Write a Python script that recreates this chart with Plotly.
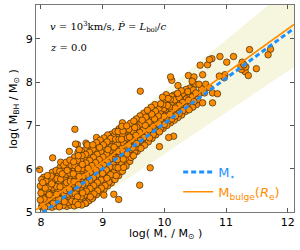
import plotly.graph_objects as go
from math import gcd

# ---------------- data ----------------
# dense cloud (log M_star, log M_BH)
mstar = [
 8.01, 8.02, 7.99, 8.03, 8.0, 8.02, 7.99, 8.03, 8.01,
 8.06, 8.08, 8.05, 8.075, 8.04, 8.07, 8.055, 8.08, 8.045,
 8.12, 8.14, 8.11, 8.135, 8.1, 8.13, 8.115, 8.14, 8.105,
 8.18, 8.2, 8.17, 8.195, 8.16, 8.19, 8.175, 8.2, 8.165, 8.185,
 8.24, 8.26, 8.23, 8.255, 8.22, 8.25, 8.235, 8.26, 8.225, 8.245,
 8.3, 8.32, 8.29, 8.315, 8.28, 8.31, 8.295, 8.32, 8.285, 8.305, 8.31,
 8.36, 8.38, 8.35, 8.375, 8.34, 8.37, 8.355, 8.38, 8.345, 8.365, 8.37,
 8.42, 8.44, 8.41, 8.435, 8.4, 8.43, 8.415, 8.44, 8.405, 8.425, 8.43, 8.41,
 8.48, 8.5, 8.47, 8.495, 8.46, 8.49, 8.475, 8.5, 8.465, 8.485, 8.49, 8.47,
 8.54, 8.56, 8.53, 8.555, 8.52, 8.55, 8.535, 8.56, 8.525, 8.545, 8.55, 8.53, 8.545,
 8.6, 8.62, 8.59, 8.615, 8.58, 8.61, 8.595, 8.62, 8.585, 8.605, 8.61, 8.59, 8.605, 8.6,
 8.66, 8.68, 8.65, 8.675, 8.64, 8.67, 8.655, 8.68, 8.645, 8.665, 8.67, 8.65, 8.665, 8.66,
 8.72, 8.74, 8.71, 8.735, 8.7, 8.73, 8.715, 8.74, 8.705, 8.725, 8.73, 8.71, 8.725, 8.72,
 8.78, 8.8, 8.77, 8.795, 8.76, 8.79, 8.775, 8.8, 8.765, 8.785, 8.79, 8.77, 8.785, 8.78,
 8.84, 8.86, 8.83, 8.855, 8.82, 8.85, 8.835, 8.86, 8.825, 8.845, 8.85, 8.83, 8.845, 8.84,
 8.9, 8.92, 8.89, 8.915, 8.88, 8.91, 8.895, 8.92, 8.885, 8.905, 8.91, 8.89, 8.905, 8.9,
 8.96, 8.98, 8.95, 8.975, 8.94, 8.97, 8.955, 8.98, 8.945, 8.965, 8.97, 8.95, 8.965, 8.96,
 9.02, 9.04, 9.01, 9.035, 9.0, 9.03, 9.015, 9.04, 9.005, 9.025, 9.03, 9.01, 9.025, 9.02,
 9.08, 9.1, 9.07, 9.095, 9.06, 9.09, 9.075, 9.1, 9.065, 9.085, 9.09, 9.07, 9.085, 9.08,
 9.14, 9.16, 9.13, 9.155, 9.12, 9.15, 9.135, 9.16, 9.125, 9.145, 9.15, 9.13, 9.145,
 9.2, 9.22, 9.19, 9.215, 9.18, 9.21, 9.195, 9.22, 9.185, 9.205, 9.21, 9.19, 9.205,
 9.26, 9.28, 9.25, 9.275, 9.24, 9.27, 9.255, 9.28, 9.245, 9.265, 9.27, 9.25, 9.265,
 9.32, 9.34, 9.31, 9.335, 9.3, 9.33, 9.315, 9.34, 9.305, 9.325, 9.33, 9.31,
 9.38, 9.4, 9.37, 9.395, 9.36, 9.39, 9.375, 9.4, 9.365, 9.385, 9.39,
 9.44, 9.46, 9.43, 9.455, 9.42, 9.45, 9.435, 9.46, 9.425, 9.445, 9.45,
 9.5, 9.52, 9.49, 9.515, 9.48, 9.51, 9.495, 9.52, 9.485, 9.505,
 9.56, 9.58, 9.55, 9.575, 9.54, 9.57, 9.555, 9.58, 9.545,
 9.62, 9.64, 9.61, 9.635, 9.6, 9.63, 9.615, 9.64, 9.605,
 9.68, 9.7, 9.67, 9.695, 9.66, 9.69, 9.675, 9.7, 9.665,
 9.74, 9.76, 9.73, 9.755, 9.72, 9.75, 9.735, 9.76, 9.725,
 9.8, 9.82, 9.79, 9.815, 9.78, 9.81, 9.795, 9.82, 9.785,
 9.86, 9.88, 9.85, 9.875, 9.84, 9.87, 9.855, 9.88, 9.845,
 9.92, 9.94, 9.91, 9.935, 9.9, 9.93, 9.915, 9.94,
 9.98, 10.0, 9.97, 9.995, 9.96, 9.99, 9.975, 10.0,
 10.04, 10.06, 10.03, 10.055, 10.02, 10.05, 10.035, 10.06,
 10.1, 10.12, 10.09, 10.115, 10.08, 10.11, 10.095, 10.12,
 10.16, 10.18, 10.15, 10.175, 10.14, 10.17, 10.155,
 10.22, 10.24, 10.21, 10.235, 10.2, 10.23, 10.215,
 10.28, 10.3, 10.27, 10.295, 10.26, 10.29, 10.275,
 10.34, 10.36, 10.33, 10.355, 10.32, 10.35,
 10.4, 10.42, 10.39, 10.415, 10.38, 10.41,
 10.46, 10.48, 10.45, 10.47,
 10.52, 10.54, 10.51,
]
mbh = [
 5.12, 5.2, 5.28, 5.36, 5.44, 5.52, 5.6, 5.68, 5.75,
 5.1, 5.19, 5.3, 5.38, 5.47, 5.55, 5.64, 5.72, 5.8,
 5.13, 5.22, 5.31, 5.4, 5.49, 5.58, 5.66, 5.75, 5.84,
 5.11, 5.2, 5.29, 5.38, 5.47, 5.56, 5.65, 5.74, 5.83, 5.92,
 5.14, 5.23, 5.32, 5.41, 5.5, 5.59, 5.68, 5.77, 5.86, 5.96,
 5.12, 5.21, 5.3, 5.4, 5.49, 5.58, 5.67, 5.76, 5.85, 5.94, 6.03,
 5.15, 5.24, 5.33, 5.42, 5.51, 5.6, 5.7, 5.79, 5.88, 5.97, 6.08,
 5.13, 5.22, 5.31, 5.41, 5.5, 5.59, 5.68, 5.78, 5.87, 5.96, 6.05, 6.15,
 5.16, 5.25, 5.34, 5.44, 5.53, 5.62, 5.71, 5.8, 5.9, 5.99, 6.08, 6.2,
 5.14, 5.23, 5.33, 5.42, 5.51, 5.6, 5.7, 5.79, 5.88, 5.98, 6.07, 6.16, 6.27,
 5.17, 5.26, 5.35, 5.45, 5.54, 5.63, 5.73, 5.82, 5.91, 6.0, 6.1, 6.19, 6.3, 6.38,
 5.16, 5.25, 5.35, 5.44, 5.53, 5.63, 5.72, 5.82, 5.91, 6.0, 6.1, 6.2, 6.3, 6.4,
 5.2, 5.29, 5.39, 5.48, 5.57, 5.67, 5.76, 5.85, 5.95, 6.04, 6.13, 6.23, 6.33, 6.44,
 5.26, 5.35, 5.45, 5.54, 5.63, 5.73, 5.82, 5.91, 6.01, 6.1, 6.19, 6.29, 6.38, 6.48,
 5.33, 5.42, 5.51, 5.61, 5.7, 5.79, 5.89, 5.98, 6.07, 6.17, 6.26, 6.35, 6.45, 6.55,
 5.4, 5.49, 5.58, 5.68, 5.77, 5.86, 5.96, 6.05, 6.14, 6.24, 6.33, 6.42, 6.52, 6.6,
 5.46, 5.55, 5.65, 5.74, 5.83, 5.93, 6.02, 6.11, 6.21, 6.3, 6.39, 6.49, 6.58, 6.66,
 5.52, 5.61, 5.71, 5.8, 5.89, 5.99, 6.08, 6.17, 6.27, 6.36, 6.45, 6.55, 6.64, 6.71,
 5.6, 5.69, 5.78, 5.88, 5.97, 6.06, 6.16, 6.25, 6.34, 6.44, 6.53, 6.62, 6.72, 6.78,
 5.67, 5.76, 5.86, 5.95, 6.04, 6.14, 6.23, 6.32, 6.42, 6.51, 6.6, 6.7, 6.8,
 5.75, 5.84, 5.94, 6.03, 6.12, 6.22, 6.31, 6.4, 6.5, 6.59, 6.68, 6.77, 6.86,
 5.84, 5.93, 6.02, 6.12, 6.21, 6.3, 6.4, 6.49, 6.58, 6.68, 6.77, 6.86, 6.92,
 5.94, 6.03, 6.12, 6.22, 6.31, 6.4, 6.5, 6.59, 6.68, 6.78, 6.87, 6.95,
 6.06, 6.15, 6.24, 6.34, 6.43, 6.52, 6.62, 6.71, 6.8, 6.9, 6.99,
 6.17, 6.26, 6.35, 6.45, 6.54, 6.63, 6.73, 6.82, 6.91, 7.0, 7.05,
 6.3, 6.39, 6.48, 6.58, 6.67, 6.76, 6.86, 6.95, 7.04, 7.1,
 6.4, 6.49, 6.58, 6.68, 6.77, 6.86, 6.96, 7.05, 7.15,
 6.47, 6.56, 6.65, 6.75, 6.84, 6.93, 7.03, 7.12, 7.22,
 6.54, 6.63, 6.72, 6.82, 6.91, 7.0, 7.1, 7.19, 7.28,
 6.62, 6.71, 6.8, 6.9, 6.99, 7.08, 7.18, 7.27, 7.35,
 6.7, 6.79, 6.88, 6.98, 7.07, 7.16, 7.26, 7.34, 7.42,
 6.78, 6.87, 6.96, 7.06, 7.15, 7.24, 7.33, 7.42, 7.48,
 6.85, 6.94, 7.03, 7.13, 7.22, 7.31, 7.4, 7.5,
 6.93, 7.02, 7.11, 7.21, 7.3, 7.39, 7.48, 7.56,
 7.0, 7.09, 7.18, 7.28, 7.37, 7.46, 7.55, 7.62,
 7.06, 7.15, 7.25, 7.34, 7.43, 7.52, 7.6, 7.67,
 7.12, 7.22, 7.31, 7.4, 7.5, 7.59, 7.7,
 7.18, 7.28, 7.37, 7.46, 7.56, 7.65, 7.74,
 7.24, 7.34, 7.44, 7.53, 7.62, 7.72, 7.8,
 7.32, 7.42, 7.52, 7.61, 7.7, 7.83,
 7.36, 7.48, 7.58, 7.68, 7.78, 7.86,
 7.42, 7.55, 7.66, 7.82,
 7.48, 7.6, 7.75,
]

# sparse / outlying galaxies
mstar_out = [7.98, 8.19, 8.55, 9.61, 8.59, 8.62, 8.75, 8.9, 9.31, 9.32, 9.6, 9.77,
             9.92, 10.07, 10.15, 10.1, 10.12, 10.22, 10.23, 10.39, 10.45, 10.58,
             10.7, 10.77, 10.9, 11.01, 11.12, 11.38, 11.72, 11.68, 10.98, 11.26,
             11.29, 11.24, 11.32, 11.25, 11.49, 11.31, 11.36, 10.73, 10.62, 10.89,
             10.97, 10.48, 10.46, 10.51, 10.56, 10.67, 10.73, 10.78, 10.86, 10.65,
             10.78, 10.62, 10.03, 10.24, 10.3, 9.26, 9.18, 9.02, 8.83, 8.73, 8.56,
             8.46, 8.32, 8.73, 8.88, 9.97, 10.55, 10.6]
mbh_out = [5.98, 6.25, 6.91, 7.79, 6.56, 6.44, 6.55, 6.72, 6.98, 7.06, 5.62, 6.02,
           6.51, 6.72, 6.75, 8.12, 8.04, 7.92, 7.7, 8.15, 8.02, 8.39,
           8.4, 8.54, 8.59, 8.46, 8.59, 8.75, 8.76, 8.63, 8.17, 8.46,
           8.4, 8.36, 8.35, 8.29, 8.31, 8.24, 8.15, 8.52, 8.17, 8.14,
           8.1, 8.12, 7.98, 7.95, 7.95, 7.95, 7.87, 7.75, 7.73, 7.75,
           7.52, 7.52, 7.71, 7.64, 7.56, 5.29, 5.41, 5.39, 5.31, 5.2, 6.57,
           6.4, 6.15, 6.59, 6.57, 7.65, 7.7, 7.85]

# relations (values at the ends of the x range)
fit_x = [7.92, 12.1]
fit_mstar = [4.87, 9.24]
fit_bulge = [5.05, 9.33]
band_upper = [5.37, 10.26]
band_lower = [4.35, 8.35]

x_ticks = [8, 9, 10, 11, 12]
y_ticks = [5, 6, 7, 8, 9]

ORANGE = "#FF8C00"
BLUE = "#1E90FF"

# draw order interleaved so the dense cloud overlaps irregularly
all_x = mstar + mstar_out
all_y = mbh + mbh_out
n = len(all_x)
stride = next(s for s in (97, 89, 83, 79, 73) if gcd(s, n) == 1)
order = [(i * stride) % n for i in range(n)]
px = [all_x[i] for i in order]
py = [all_y[i] for i in order]

fig = go.Figure()

# shaded band
fig.add_trace(go.Scatter(x=fit_x, y=band_lower, mode="lines",
                         line=dict(width=0), hoverinfo="skip", showlegend=False))
fig.add_trace(go.Scatter(x=fit_x, y=band_upper, mode="lines", fill="tonexty",
                         fillcolor="rgba(232,232,170,0.38)",
                         line=dict(width=0), hoverinfo="skip", showlegend=False))

fig.add_trace(go.Scatter(x=px, y=py, mode="markers",
                         marker=dict(size=6.5, color=ORANGE,
                                     line=dict(width=0.7, color="#3a2a10")),
                         showlegend=False))

fig.add_trace(go.Scatter(x=fit_x, y=fit_mstar, mode="lines",
                         line=dict(color=BLUE, width=3, dash="5px,3px"),
                         name="<span style='color:%s'>M<sub>⋆</sub></span>" % BLUE))
fig.add_trace(go.Scatter(x=fit_x, y=fit_bulge, mode="lines",
                         line=dict(color=ORANGE, width=1.6),
                         name="<span style='color:%s'>M<sub>bulge</sub>(<i>R</i><sub>e</sub>)</span>" % ORANGE))

axis_common = dict(showline=True, linecolor="#777", linewidth=1, mirror="ticks",
                   ticks="inside", ticklen=4, tickcolor="#555", showgrid=False,
                   zeroline=False, automargin=False,
                   tickfont=dict(family="DejaVu Sans", size=11, color="black"))

fig.update_xaxes(range=[7.92, 12.1], tickvals=x_ticks, ticktext=[str(v) for v in x_ticks],
                 **axis_common)
fig.update_yaxes(range=[5.0, 9.78], tickvals=y_ticks, ticktext=[str(v) for v in y_ticks],
                 **axis_common)

# axis titles as annotations
fig.add_annotation(xref="paper", yref="paper", x=-0.088, y=0.50, textangle=-90,
                   xanchor="center", yanchor="middle", showarrow=False,
                   text="log( M<sub>BH</sub> / M<sub>⊙</sub> )",
                   font=dict(family="DejaVu Sans", size=11, color="black"))
fig.add_annotation(xref="paper", yref="paper", x=0.5, y=-0.108,
                   xanchor="center", yanchor="middle", showarrow=False,
                   text="log( M<sub>⋆</sub> / M<sub>⊙</sub> )",
                   font=dict(family="DejaVu Sans", size=11, color="black"))

fig.add_annotation(xref="paper", yref="paper", x=0.045, y=0.895, xanchor="left", yanchor="middle",
                   text="<i>v</i> = 10<sup>3</sup>km/s, <i>Ṗ</i> = <i>L</i><sub>bol</sub>/<i>c</i>",
                   showarrow=False, font=dict(family="DejaVu Serif", size=10, color="black"))
fig.add_annotation(xref="paper", yref="paper", x=0.045, y=0.797, xanchor="left", yanchor="middle",
                   text="<i>z</i> = 0.0",
                   showarrow=False, font=dict(family="DejaVu Serif", size=10, color="black"))

fig.update_layout(
    width=300, height=250,
    margin=dict(l=36, r=6, t=5, b=38),
    paper_bgcolor="white", plot_bgcolor="white",
    legend=dict(x=0.551, y=0.266, xanchor="left", yanchor="top", traceorder="normal",
                bgcolor="rgba(0,0,0,0)", font=dict(family="DejaVu Sans", size=13),
                tracegroupgap=0, itemwidth=30),
)

fig.write_html("out.html", config={"displayModeBar": False},
               post_script="document.body.style.margin='0px';document.body.style.padding='0px';")
